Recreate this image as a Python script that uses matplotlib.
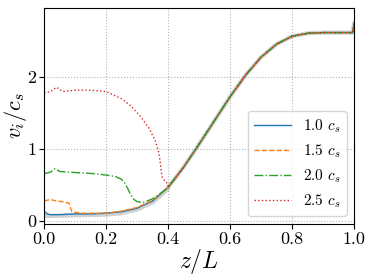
import numpy as np
import matplotlib
matplotlib.use('Agg')
import matplotlib.pyplot as plt

plt.rcParams['font.family'] = 'serif'
plt.rcParams['font.serif'] = ['cmr10', 'DejaVu Serif']
plt.rcParams['mathtext.fontset'] = 'cm'
plt.rcParams['axes.formatter.use_mathtext'] = True

# shared rise (all runs collapse onto it beyond z ~ 0.4)
z_rise = [0.40, 0.45, 0.50, 0.55, 0.60, 0.65, 0.70, 0.75, 0.80, 0.85, 0.90, 0.95, 0.995, 1.0]
v_rise = [0.47, 0.75, 1.07, 1.40, 1.73, 2.03, 2.28, 2.46, 2.57, 2.61, 2.62, 2.62, 2.62, 2.75]

# 1.0 c_s
z1 = [0.0, 0.01, 0.02, 0.05, 0.10, 0.15, 0.20, 0.25, 0.30, 0.35]
v1 = [0.14, 0.10, 0.09, 0.09, 0.10, 0.10, 0.11, 0.13, 0.18, 0.28]
# 1.5 c_s
z15 = [0.0, 0.02, 0.04, 0.06, 0.08, 0.085, 0.09, 0.12, 0.20, 0.25, 0.30, 0.35]
v15 = [0.28, 0.30, 0.28, 0.27, 0.25, 0.18, 0.13, 0.11, 0.11, 0.14, 0.19, 0.29]
# 2.0 c_s
z2 = [0.0, 0.02, 0.035, 0.05, 0.08, 0.12, 0.16, 0.20, 0.23, 0.25, 0.26, 0.27, 0.28, 0.29, 0.30, 0.32, 0.35, 0.38]
v2 = [0.66, 0.68, 0.73, 0.69, 0.68, 0.67, 0.66, 0.64, 0.62, 0.58, 0.53, 0.45, 0.36, 0.30, 0.27, 0.26, 0.31, 0.40]
# 2.5 c_s
z25 = [0.0, 0.02, 0.04, 0.06, 0.10, 0.15, 0.20, 0.22, 0.25, 0.28, 0.31, 0.34, 0.36, 0.37, 0.375, 0.38, 0.39, 0.40]
v25 = [1.78, 1.80, 1.86, 1.80, 1.82, 1.82, 1.80, 1.76, 1.70, 1.60, 1.46, 1.28, 1.10, 0.95, 0.80, 0.62, 0.55, 0.52]
# analytic reference (thick grey)
z_ref = [0.0, 0.10, 0.20, 0.25, 0.30, 0.35, 0.40]
v_ref = [0.07, 0.08, 0.09, 0.11, 0.16, 0.26, 0.45]

labels = [r'1.0 $c_s$', r'1.5 $c_s$', r'2.0 $c_s$', r'2.5 $c_s$']

fig = plt.figure(figsize=(3.74, 2.8), dpi=100)
ax = fig.add_axes([0.118, 0.2, 0.829, 0.771])

ax.plot(z_ref + z_rise, v_ref + v_rise, color='grey', lw=3, alpha=0.35)
ax.plot(z1 + z_rise, v1 + v_rise, '-', color='tab:blue', lw=1, label=labels[0])
ax.plot(z15 + z_rise, v15 + v_rise, '--', color='tab:orange', lw=1, label=labels[1])
ax.plot(z2 + z_rise, v2 + v_rise, '-.', color='tab:green', lw=1, label=labels[2])
ax.plot(z25 + z_rise, v25 + v_rise, ':', color='tab:red', lw=1, label=labels[3])

ax.set_xlim(0, 1)
ax.set_ylim(-0.04, 2.96)
ax.set_xticks([0.0, 0.2, 0.4, 0.6, 0.8, 1.0])
ax.set_xticklabels(['0.0', '0.2', '0.4', '0.6', '0.8', '1.0'])
ax.set_yticks([0, 1, 2])
ax.set_yticklabels(['0', '1', '2'])
ax.tick_params(labelsize=13, pad=2)
ax.grid(True, ls=':', color='0.7', lw=0.8)
ax.set_xlabel(r'$z/L$', fontsize=17, labelpad=0)
ax.set_ylabel(r'$v_i/c_s$', fontsize=16, labelpad=-1)
ax.legend(loc='lower right', fontsize=11, handlelength=2.4, borderaxespad=0.5)

fig.savefig('out.png', dpi=100)
